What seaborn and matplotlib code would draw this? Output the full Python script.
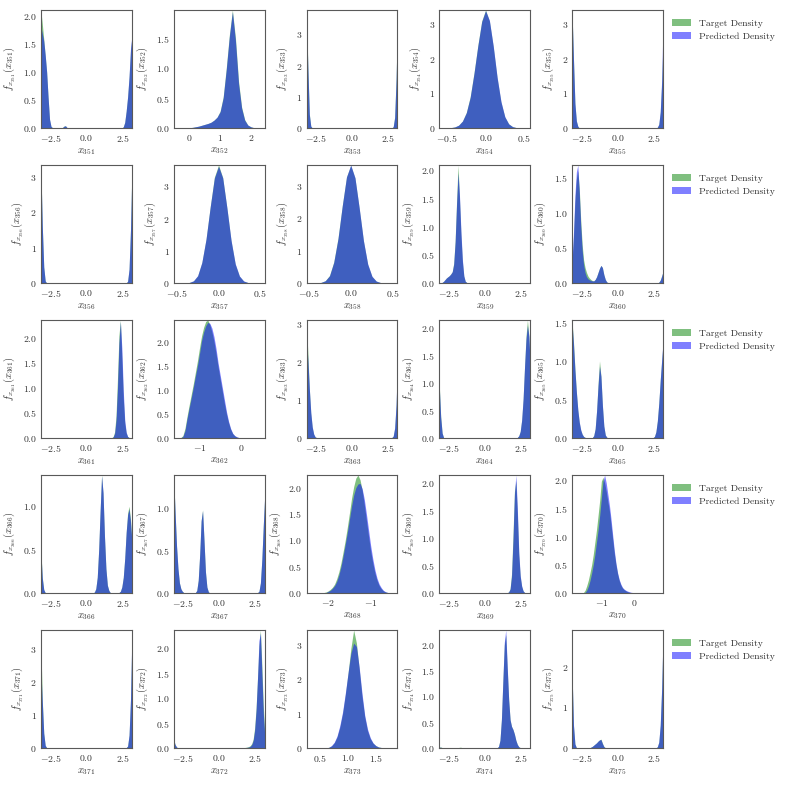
import numpy as np
import matplotlib
matplotlib.use("Agg")
import matplotlib.pyplot as plt
from matplotlib.patches import Patch
from matplotlib.ticker import MaxNLocator
import seaborn as sns

# ---------------- data (bin centres and densities) ----------------
c351 = [-3.15, -3.05, -2.95, -2.85, -2.75, -2.65, -2.55, -2.45, -2.35, -1.65, -1.55, -1.45, -1.35,
        2.55, 2.65, 2.75, 2.85, 2.95, 3.05, 3.15]
t351 = [2.10, 1.85, 1.58, 1.30, 1.00, 0.55, 0.15, 0.03, 0.005, 0.01, 0.035, 0.04, 0.01,
        0.02, 0.10, 0.30, 0.55, 0.90, 1.38, 1.62]
p351 = [1.80, 1.68, 1.55, 1.30, 1.00, 0.55, 0.16, 0.03, 0.005, 0.01, 0.03, 0.04, 0.01,
        0.02, 0.10, 0.30, 0.56, 0.92, 1.42, 1.65]

c352 = [0.0, 0.1, 0.2, 0.3, 0.4, 0.5, 0.6, 0.7, 0.8, 0.9, 1.0, 1.1, 1.2, 1.3, 1.4, 1.5, 1.6, 1.7, 1.8, 1.9, 2.0, 2.1]
t352 = [0.005, 0.01, 0.02, 0.03, 0.045, 0.06, 0.075, 0.095, 0.13, 0.18, 0.28, 0.52, 1.0, 1.55, 1.97, 1.5, 0.78, 0.35, 0.14, 0.05, 0.02, 0.005]
p352 = [0.005, 0.01, 0.02, 0.03, 0.045, 0.06, 0.075, 0.095, 0.13, 0.18, 0.27, 0.50, 0.97, 1.52, 1.94, 1.45, 0.74, 0.33, 0.13, 0.05, 0.02, 0.005]

c353 = [-3.15, -3.05, -2.95, -2.85, 2.85, 2.95, 3.05, 3.15]
t353 = [3.78, 1.95, 0.45, 0.06, 0.04, 0.35, 1.60, 3.50]
p353 = [3.65, 1.90, 0.43, 0.06, 0.04, 0.33, 1.55, 3.55]

c354 = [-0.45, -0.40, -0.35, -0.30, -0.25, -0.20, -0.15, -0.10, -0.05, 0.00, 0.05, 0.10, 0.15, 0.20, 0.25, 0.30, 0.35, 0.40, 0.45]
t354 = [0.01, 0.03, 0.08, 0.2, 0.45, 0.9, 1.6, 2.4, 3.1, 3.42, 3.1, 2.35, 1.45, 0.75, 0.32, 0.12, 0.04, 0.01, 0.003]
p354 = [0.01, 0.03, 0.08, 0.2, 0.44, 0.88, 1.58, 2.38, 3.08, 3.40, 3.12, 2.38, 1.48, 0.77, 0.33, 0.12, 0.04, 0.01, 0.003]

c355 = [-3.15, -3.05, -2.95, -2.85, -2.75, 2.75, 2.85, 2.95, 3.05, 3.15]
t355 = [3.42, 2.00, 0.70, 0.20, 0.05, 0.02, 0.10, 0.45, 1.30, 2.70]
p355 = [3.40, 2.00, 0.72, 0.21, 0.05, 0.02, 0.11, 0.48, 1.40, 3.20]

c356 = [-3.15, -3.05, -2.95, -2.85, 2.85, 2.95, 3.05, 3.15]
t356 = [3.34, 1.60, 0.45, 0.06, 0.05, 0.38, 1.50, 3.30]
p356 = [3.30, 1.62, 0.46, 0.06, 0.05, 0.40, 1.52, 3.25]

c357 = [-0.40, -0.35, -0.30, -0.25, -0.20, -0.15, -0.10, -0.05, 0.00, 0.05, 0.10, 0.15, 0.20, 0.25, 0.30, 0.35, 0.40]
t357 = [0.004, 0.016, 0.065, 0.22, 0.63, 1.35, 2.36, 3.28, 3.66, 3.27, 2.33, 1.31, 0.58, 0.21, 0.06, 0.015, 0.004]
p357 = [0.004, 0.017, 0.068, 0.23, 0.64, 1.36, 2.35, 3.25, 3.62, 3.26, 2.34, 1.33, 0.60, 0.22, 0.065, 0.016, 0.004]

c358 = [-0.40, -0.35, -0.30, -0.25, -0.20, -0.15, -0.10, -0.05, 0.00, 0.05, 0.10, 0.15, 0.20, 0.25, 0.30, 0.35, 0.40]
t358 = [0.004, 0.018, 0.07, 0.23, 0.65, 1.38, 2.38, 3.27, 3.63, 3.24, 2.30, 1.29, 0.57, 0.2, 0.058, 0.014, 0.003]
p358 = [0.004, 0.017, 0.068, 0.22, 0.63, 1.36, 2.37, 3.27, 3.64, 3.25, 2.32, 1.31, 0.59, 0.21, 0.06, 0.015, 0.004]

c359 = [-2.95, -2.85, -2.75, -2.65, -2.55, -2.45, -2.35, -2.25, -2.15, -2.05, -1.95, -1.85, -1.75, -1.65, -1.55, -1.45, -1.35, -1.25]
t359 = [0.01, 0.03, 0.06, 0.09, 0.11, 0.13, 0.16, 0.20, 0.35, 0.75, 1.45, 2.09, 1.50, 0.85, 0.38, 0.12, 0.03, 0.01]
p359 = [0.01, 0.03, 0.06, 0.09, 0.11, 0.13, 0.16, 0.20, 0.33, 0.72, 1.40, 1.95, 1.55, 0.92, 0.42, 0.13, 0.03, 0.01]

c360 = [-3.15, -3.05, -2.95, -2.85, -2.75, -2.65, -2.55, -2.45, -2.35, -2.25, -2.15, -2.05, -1.95, -1.85, -1.75, -1.65,
        -1.55, -1.45, -1.35, -1.25, -1.15, -1.05, -0.95, -0.85, -0.75, -0.65, 2.85, 2.95, 3.05, 3.15]
t360 = [0.28, 0.65, 1.15, 1.48, 1.60, 1.35, 0.90, 0.55, 0.33, 0.22, 0.15, 0.10, 0.07, 0.05, 0.035, 0.03,
        0.05, 0.09, 0.15, 0.21, 0.25, 0.22, 0.12, 0.05, 0.015, 0.005, 0.01, 0.04, 0.10, 0.17]
p360 = [0.32, 0.72, 1.25, 1.58, 1.68, 1.30, 0.82, 0.47, 0.26, 0.15, 0.09, 0.06, 0.045, 0.035, 0.03, 0.03,
        0.05, 0.09, 0.15, 0.21, 0.25, 0.22, 0.12, 0.05, 0.015, 0.005, 0.01, 0.04, 0.10, 0.17]

c361 = [1.75, 1.85, 1.95, 2.05, 2.15, 2.25, 2.35, 2.45, 2.55, 2.65, 2.75, 2.85, 2.95]
t361 = [0.005, 0.03, 0.12, 0.45, 1.2, 2.05, 2.36, 1.6, 0.8, 0.3, 0.1, 0.03, 0.01]
p361 = [0.005, 0.02, 0.09, 0.35, 1.0, 1.9, 2.33, 1.8, 0.95, 0.36, 0.12, 0.03, 0.01]

c362 = [-1.45, -1.40, -1.35, -1.30, -1.25, -1.20, -1.15, -1.10, -1.05, -1.00, -0.95, -0.90, -0.85, -0.80, -0.75,
        -0.70, -0.65, -0.60, -0.55, -0.50, -0.45, -0.40, -0.35, -0.30, -0.25, -0.20, -0.15, -0.10, -0.05, 0.00]
t362 = [0.01, 0.05, 0.20, 0.45, 0.68, 0.90, 1.12, 1.36, 1.60, 1.87, 2.12, 2.30, 2.42, 2.45, 2.35,
        2.20, 2.00, 1.75, 1.47, 1.22, 0.97, 0.72, 0.50, 0.32, 0.18, 0.09, 0.045, 0.02, 0.008, 0.004]
p362 = [0.005, 0.03, 0.15, 0.40, 0.62, 0.83, 1.05, 1.28, 1.50, 1.75, 2.02, 2.20, 2.33, 2.40, 2.38,
        2.28, 2.10, 1.85, 1.55, 1.30, 1.05, 0.80, 0.55, 0.35, 0.20, 0.10, 0.05, 0.025, 0.01, 0.005]

c363 = [-3.15, -3.05, -2.95, -2.85, -2.75, -2.65, -2.55, -2.45, 2.75, 2.85, 2.95, 3.05, 3.15]
t363 = [3.10, 2.20, 1.30, 0.65, 0.28, 0.10, 0.03, 0.01, 0.01, 0.05, 0.25, 0.85, 2.05]
p363 = [2.65, 2.05, 1.30, 0.68, 0.30, 0.11, 0.03, 0.01, 0.01, 0.05, 0.27, 0.90, 2.10]

c364 = [-3.15, -3.05, -2.95, -2.85, 2.25, 2.35, 2.45, 2.55, 2.65, 2.75, 2.85, 2.95, 3.05, 3.15]
t364 = [1.00, 0.40, 0.09, 0.01, 0.01, 0.04, 0.12, 0.32, 0.70, 1.30, 1.85, 2.15, 1.85, 1.30]
p364 = [0.95, 0.38, 0.09, 0.01, 0.01, 0.04, 0.12, 0.33, 0.72, 1.30, 1.80, 2.05, 1.85, 1.30]

c365 = [-3.15, -3.05, -2.95, -2.85, -2.75, -2.65, -2.55, -2.45, -2.35, -2.25, -2.15,
        -1.75, -1.65, -1.55, -1.45, -1.35, -1.25, -1.15, -1.05, -0.95, -0.85, -0.75, -0.65,
        2.45, 2.55, 2.65, 2.75, 2.85, 2.95, 3.05, 3.15]
t365 = [1.53, 1.25, 0.90, 0.60, 0.36, 0.20, 0.10, 0.05, 0.02, 0.008, 0.003,
        0.005, 0.03, 0.12, 0.35, 0.70, 1.00, 0.80, 0.42, 0.15, 0.04, 0.01, 0.003,
        0.005, 0.02, 0.08, 0.22, 0.45, 0.75, 1.00, 1.25]
p365 = [1.50, 1.22, 0.88, 0.60, 0.37, 0.21, 0.11, 0.05, 0.02, 0.008, 0.003,
        0.005, 0.03, 0.12, 0.36, 0.68, 0.93, 0.80, 0.43, 0.16, 0.04, 0.01, 0.003,
        0.005, 0.02, 0.08, 0.22, 0.45, 0.75, 1.02, 1.27]

c366 = [-3.15, -3.05, -2.95, -2.85, 0.45, 0.55, 0.65, 0.75, 0.85, 0.95, 1.05, 1.15, 1.25, 1.35, 1.45, 1.55, 1.65,
        2.25, 2.35, 2.45, 2.55, 2.65, 2.75, 2.85, 2.95, 3.05, 3.15]
t366 = [0.50, 0.18, 0.04, 0.005, 0.003, 0.01, 0.05, 0.18, 0.50, 0.95, 1.36, 1.15, 0.65, 0.28, 0.09, 0.03, 0.005,
        0.005, 0.02, 0.07, 0.18, 0.40, 0.70, 0.92, 1.00, 0.85, 0.60]
p366 = [0.48, 0.17, 0.04, 0.005, 0.003, 0.01, 0.05, 0.18, 0.50, 0.95, 1.35, 1.16, 0.66, 0.28, 0.09, 0.03, 0.005,
        0.005, 0.02, 0.07, 0.18, 0.40, 0.70, 0.90, 0.97, 0.82, 0.58]

c367 = [-3.15, -3.05, -2.95, -2.85, -2.75, -2.65, -2.55, -2.45, -1.65, -1.55, -1.45, -1.35, -1.25, -1.15, -1.05,
        -0.95, -0.85, -0.75, 2.65, 2.75, 2.85, 2.95, 3.05, 3.15]
t367 = [1.39, 0.95, 0.55, 0.28, 0.12, 0.05, 0.02, 0.005, 0.005, 0.03, 0.15, 0.45, 0.85, 0.98, 0.62,
        0.25, 0.07, 0.015, 0.005, 0.02, 0.12, 0.40, 0.80, 1.15]
p367 = [1.38, 0.95, 0.56, 0.29, 0.12, 0.05, 0.02, 0.005, 0.005, 0.03, 0.15, 0.45, 0.85, 0.97, 0.62,
        0.25, 0.07, 0.015, 0.005, 0.02, 0.12, 0.40, 0.80, 1.16]

c368 = [-2.15, -2.10, -2.05, -2.00, -1.95, -1.90, -1.85, -1.80, -1.75, -1.70, -1.65, -1.60, -1.55, -1.50, -1.45, -1.40,
        -1.35, -1.30, -1.25, -1.20, -1.15, -1.10, -1.05, -1.00, -0.95, -0.90, -0.85, -0.80, -0.75, -0.70, -0.65, -0.60]
t368 = [0.005, 0.01, 0.02, 0.04, 0.07, 0.11, 0.17, 0.27, 0.40, 0.57, 0.78, 1.00, 1.25, 1.52, 1.80, 2.02,
        2.18, 2.24, 2.15, 1.95, 1.68, 1.38, 1.08, 0.80, 0.57, 0.38, 0.24, 0.14, 0.08, 0.04, 0.02, 0.01]
p368 = [0.002, 0.005, 0.01, 0.03, 0.05, 0.09, 0.14, 0.22, 0.34, 0.50, 0.70, 0.92, 1.15, 1.40, 1.65, 1.86,
        2.00, 2.07, 2.08, 1.98, 1.78, 1.50, 1.20, 0.90, 0.65, 0.44, 0.28, 0.17, 0.10, 0.05, 0.025, 0.01]

c369 = [1.55, 1.65, 1.75, 1.85, 1.95, 2.05, 2.15, 2.25, 2.35, 2.45, 2.55, 2.65, 2.75]
t369 = [0.005, 0.02, 0.08, 0.35, 1.05, 1.85, 2.05, 1.45, 0.70, 0.30, 0.12, 0.04, 0.01]
p369 = [0.005, 0.02, 0.07, 0.30, 0.95, 1.80, 2.15, 1.55, 0.75, 0.32, 0.13, 0.04, 0.01]

c370 = [-1.55, -1.50, -1.45, -1.40, -1.35, -1.30, -1.25, -1.20, -1.15, -1.10, -1.05, -1.00, -0.95, -0.90, -0.85, -0.80,
        -0.75, -0.70, -0.65, -0.60, -0.55, -0.50, -0.45, -0.40, -0.35, -0.30, -0.25, -0.20, -0.15, -0.10, -0.05, 0.00, 0.05]
t370 = [0.01, 0.05, 0.13, 0.23, 0.36, 0.50, 0.68, 0.90, 1.12, 1.38, 1.65, 1.98, 2.05, 1.95, 1.80, 1.62,
        1.45, 1.20, 0.95, 0.70, 0.50, 0.34, 0.22, 0.14, 0.09, 0.06, 0.04, 0.025, 0.015, 0.008, 0.004, 0.002, 0.001]
p370 = [0.003, 0.01, 0.05, 0.12, 0.22, 0.35, 0.50, 0.68, 0.90, 1.12, 1.38, 1.68, 1.98, 2.09, 1.95, 1.75,
        1.55, 1.30, 1.02, 0.75, 0.53, 0.36, 0.24, 0.16, 0.10, 0.07, 0.05, 0.035, 0.025, 0.015, 0.01, 0.006, 0.003]

c371 = [-3.15, -3.05, -2.95, -2.85, -2.75, 2.75, 2.85, 2.95, 3.05, 3.15]
t371 = [3.20, 1.45, 0.45, 0.08, 0.01, 0.01, 0.06, 0.38, 1.45, 3.45]
p371 = [2.40, 1.40, 0.45, 0.08, 0.01, 0.01, 0.06, 0.40, 1.50, 3.57]

c372 = [-3.15, -3.05, -2.95, -2.85, 1.45, 1.55, 1.65, 1.75, 1.85, 1.95, 2.05, 2.15, 2.25, 2.35, 2.45, 2.55, 2.65,
        2.75, 2.85, 2.95, 3.05, 3.15]
t372 = [0.17, 0.07, 0.02, 0.005, 0.003, 0.005, 0.008, 0.01, 0.015, 0.02, 0.03, 0.05, 0.09, 0.18, 0.40, 0.80, 1.40,
        2.05, 2.36, 1.65, 0.85, 0.30]
p372 = [0.17, 0.07, 0.02, 0.005, 0.002, 0.003, 0.005, 0.007, 0.01, 0.015, 0.02, 0.035, 0.07, 0.15, 0.35, 0.75, 1.40,
        2.15, 2.30, 1.50, 0.70, 0.25]

c373 = [0.60, 0.65, 0.70, 0.75, 0.80, 0.85, 0.90, 0.95, 1.00, 1.05, 1.10, 1.15, 1.20, 1.25, 1.30, 1.35, 1.40, 1.45,
        1.50, 1.55, 1.60, 1.65]
t373 = [0.005, 0.02, 0.06, 0.15, 0.32, 0.60, 1.00, 1.55, 2.20, 2.90, 3.43, 3.05, 2.30, 1.50, 0.90, 0.50, 0.27, 0.14,
        0.07, 0.03, 0.015, 0.005]
p373 = [0.005, 0.02, 0.07, 0.17, 0.35, 0.65, 1.05, 1.60, 2.20, 2.75, 3.05, 2.95, 2.35, 1.60, 0.95, 0.55, 0.30, 0.15,
        0.07, 0.03, 0.015, 0.005]

c374 = [-3.15, -3.05, -2.95, -2.85, -1.85, -1.75, -1.65, -1.55, 0.85, 0.95, 1.05, 1.15, 1.25, 1.35, 1.45, 1.55, 1.65,
        1.75, 1.85, 1.95, 2.05, 2.15, 2.25, 2.35, 2.45]
t374 = [0.02, 0.02, 0.01, 0.003, 0.005, 0.015, 0.015, 0.005, 0.005, 0.03, 0.15, 0.55, 1.30, 2.00, 2.20, 1.55, 0.95,
        0.55, 0.42, 0.36, 0.27, 0.15, 0.07, 0.025, 0.008]
p374 = [0.015, 0.015, 0.008, 0.002, 0.003, 0.01, 0.01, 0.003, 0.005, 0.03, 0.15, 0.55, 1.30, 2.05, 2.29, 1.60, 0.95,
        0.55, 0.42, 0.36, 0.27, 0.15, 0.07, 0.025, 0.008]

c375 = [-3.15, -3.05, -2.95, -2.85, -1.95, -1.85, -1.75, -1.65, -1.55, -1.45, -1.35, -1.25, -1.15, -1.05, -0.95, -0.85,
        2.65, 2.75, 2.85, 2.95, 3.05, 3.15]
t375 = [1.90, 0.55, 0.10, 0.01, 0.005, 0.02, 0.04, 0.07, 0.10, 0.13, 0.17, 0.20, 0.22, 0.12, 0.04, 0.008,
        0.005, 0.03, 0.14, 0.55, 1.45, 2.85]
p375 = [1.92, 0.58, 0.10, 0.01, 0.005, 0.02, 0.04, 0.07, 0.10, 0.13, 0.17, 0.20, 0.21, 0.11, 0.035, 0.007,
        0.005, 0.03, 0.15, 0.58, 1.50, 2.91]

dims = list(range(351, 376))
centers = [c351, c352, c353, c354, c355, c356, c357, c358, c359, c360, c361, c362, c363,
           c364, c365, c366, c367, c368, c369, c370, c371, c372, c373, c374, c375]
targets = [t351, t352, t353, t354, t355, t356, t357, t358, t359, t360, t361, t362, t363,
           t364, t365, t366, t367, t368, t369, t370, t371, t372, t373, t374, t375]
preds = [p351, p352, p353, p354, p355, p356, p357, p358, p359, p360, p361, p362, p363,
         p364, p365, p366, p367, p368, p369, p370, p371, p372, p373, p374, p375]

# ---------------- axis settings ----------------
PI = np.pi
circ_ticks = [-2.5, 0.0, 2.5]
axis_cfg = {  # dim: (xlim, xticks, bin width)
    352: ((-0.51, 2.45), [0, 1, 2], 0.1),
    354: ((-0.60, 0.58), [-0.5, 0.0, 0.5], 0.05),
    357: ((-0.536, 0.552), [-0.5, 0.0, 0.5], 0.05),
    358: ((-0.52, 0.55), [-0.5, 0.0, 0.5], 0.05),
    362: ((-1.62, 0.57), [-1, 0], 0.05),
    368: ((-2.51, -0.37), [-2, -1], 0.05),
    370: ((-1.90, 0.90), [-1, 0], 0.05),
    373: ((0.25, 1.89), [0.5, 1.0, 1.5], 0.05),
}

sns.set_style("white")
plt.rcParams.update({
    "font.family": ["cmr10", "DejaVu Serif"],
    "mathtext.fontset": "cm",
    "axes.formatter.use_mathtext": True,
    "axes.unicode_minus": True,
    "font.size": 7,
    "xtick.labelsize": 7,
    "ytick.labelsize": 7,
    "axes.labelsize": 7.5,
    "legend.fontsize": 7,
    "axes.edgecolor": "0.35",
    "axes.linewidth": 0.8,
    "text.color": "0.2",
    "xtick.color": "0.2",
    "ytick.color": "0.2",
    "axes.labelcolor": "0.2",
})


def make_edges(c, w, lo, hi):
    c0 = c[0]
    k_lo = int(np.floor((lo - c0) / w)) - 1
    k_hi = int(np.ceil((hi - c0) / w)) + 1
    cc = c0 + w * np.arange(k_lo, k_hi + 1)
    return [float(v) for v in np.append(cc - w / 2, cc[-1] + w / 2)]


fig, axes = plt.subplots(5, 5, figsize=(7.85, 7.85), dpi=100)
fig.subplots_adjust(left=0.0522, right=0.8446, bottom=0.0471, top=0.9873,
                    wspace=0.4615, hspace=0.3136)

for i, d in enumerate(dims):
    ax = axes[i // 5, i % 5]
    if d in axis_cfg:
        xlim, xt, w = axis_cfg[d]
    else:
        xlim, xt, w = (-PI, PI), circ_ticks, 0.1
    edges = make_edges(centers[i], w, xlim[0], xlim[1])
    sns.histplot(x=centers[i], weights=targets[i], bins=edges, element="poly", fill=True,
                 stat="count", color="green", alpha=0.5, linewidth=0, ax=ax)
    sns.histplot(x=centers[i], weights=preds[i], bins=edges, element="poly", fill=True,
                 stat="count", color="blue", alpha=0.5, linewidth=0, ax=ax)
    ax.set_xlim(*xlim)
    ax.set_ylim(0, max(max(targets[i]), max(preds[i])))
    ax.set_xticks(xt)
    ax.yaxis.set_major_locator(MaxNLocator(nbins=5, steps=[1, 2, 2.5, 5, 10]))
    ax.tick_params(axis="x", length=0, pad=3.5)
    ax.tick_params(axis="y", length=0, pad=3)
    ax.set_xlabel(r"$x_{%d}$" % d, labelpad=2)
    ax.set_ylabel(r"$f_{x_{%d}}(x_{%d})$" % (d, d), labelpad=4)
    for s in ax.spines.values():
        s.set_color("0.35")
        s.set_linewidth(0.8)
    if i % 5 == 4:
        handles = [Patch(facecolor="green", alpha=0.5, edgecolor="none", label="Target Density"),
                   Patch(facecolor="blue", alpha=0.5, edgecolor="none", label="Predicted Density")]
        ax.legend(handles=handles, loc="upper left", bbox_to_anchor=(1.0, 1.0), frameon=False)

fig.savefig("out.png", dpi=100)
